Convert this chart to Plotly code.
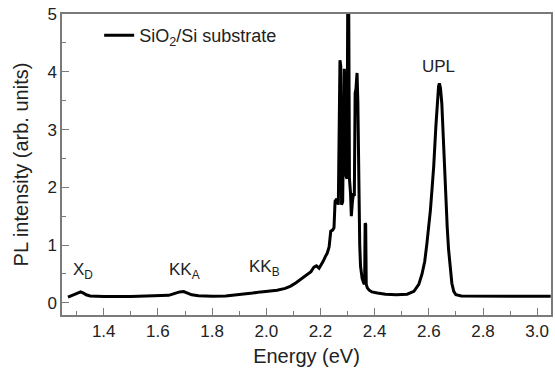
import plotly.graph_objects as go

# Spectrum (energy in eV, PL intensity arb. units)
energy = [1.268, 1.28, 1.295, 1.305, 1.315, 1.325, 1.335, 1.35, 1.40, 1.50, 1.60, 1.64, 1.66, 1.68,
          1.695, 1.71, 1.725, 1.75, 1.80, 1.85, 1.90, 1.95, 1.98, 2.00, 2.04, 2.07, 2.09, 2.11,
          2.13, 2.15, 2.165, 2.176, 2.185, 2.195, 2.203, 2.21, 2.218, 2.225, 2.232, 2.238, 2.245,
          2.25, 2.254, 2.26, 2.266, 2.27, 2.272, 2.275, 2.278, 2.282, 2.286, 2.288, 2.291, 2.294,
          2.298, 2.301, 2.304, 2.307, 2.311, 2.314, 2.318, 2.322, 2.325, 2.328, 2.331, 2.335,
          2.338, 2.341, 2.345, 2.348, 2.354, 2.36, 2.363, 2.365, 2.367, 2.369, 2.373, 2.38, 2.39,
          2.41, 2.44, 2.48, 2.52, 2.545, 2.563, 2.575, 2.585, 2.593, 2.60, 2.606, 2.612, 2.618,
          2.626, 2.632, 2.636, 2.639, 2.643, 2.648, 2.654, 2.658, 2.663, 2.668, 2.673, 2.679,
          2.685, 2.692, 2.70, 2.72, 2.80, 2.90, 3.05]
intensity = [0.10, 0.12, 0.15, 0.17, 0.19, 0.17, 0.14, 0.12, 0.11, 0.11, 0.115, 0.13, 0.16, 0.19,
             0.195, 0.17, 0.14, 0.125, 0.115, 0.12, 0.14, 0.17, 0.19, 0.20, 0.22, 0.25, 0.29, 0.35,
             0.42, 0.50, 0.54, 0.62, 0.64, 0.60, 0.66, 0.72, 0.80, 0.86, 0.97, 1.24, 1.26,
             1.30, 1.76, 1.80, 1.70, 4.0, 4.2, 4.1, 1.7, 1.75, 4.0, 4.05, 3.6, 2.2,
             2.15, 5.6, 5.6, 2.15, 1.9, 1.5, 1.75, 1.9, 1.85, 3.63, 3.7, 3.98,
             3.5, 1.8, 1.0, 0.63, 0.42, 0.34, 0.33, 1.38, 1.36, 0.32, 0.26, 0.22, 0.19,
             0.17, 0.15, 0.14, 0.15, 0.20, 0.32, 0.50, 0.72, 1.03, 1.32, 1.61, 1.98, 2.36,
             3.05, 3.55, 3.75, 3.80, 3.72, 3.45, 2.76, 2.3, 1.78, 1.3, 0.92, 0.6,
             0.34, 0.2, 0.14, 0.12, 0.115, 0.115, 0.115]

x_ticks = [1.4, 1.6, 1.8, 2.0, 2.2, 2.4, 2.6, 2.8, 3.0]
y_ticks = [0, 1, 2, 3, 4, 5]

labels = ["X<sub>D</sub>", "KK<sub>A</sub>", "KK<sub>B</sub>", "UPL"]
label_x = [1.323, 1.698, 1.992, 2.636]
label_y = [0.55, 0.55, 0.6, 4.1]

FONT = "Liberation Sans, Arial, sans-serif"
TXT = "#222222"
AX = "#7a7a7a"

fig = go.Figure()
fig.add_trace(go.Scatter(x=energy, y=intensity, mode="lines",
                         line=dict(color="black", width=3),
                         name="SiO<sub>2</sub>/Si substrate"))

for t, xx, yy in zip(labels, label_x, label_y):
    fig.add_annotation(x=xx, y=yy, text=t, showarrow=False,
                       font=dict(family=FONT, size=17, color=TXT))

fig.update_layout(
    width=555, height=372,
    margin=dict(l=62, r=2, t=14, b=57),
    paper_bgcolor="white", plot_bgcolor="white",
    font=dict(family=FONT, size=17, color=TXT),
    showlegend=True,
    legend=dict(x=0.076, y=0.99, xanchor="left", yanchor="top",
                bgcolor="rgba(0,0,0,0)", font=dict(size=18, color=TXT)),
)
fig.update_xaxes(range=[1.246, 3.051], tickvals=x_ticks, tickformat=".1f",
                 ticks="inside", ticklen=7, tickwidth=1.2, tickcolor=AX,
                 minor=dict(dtick=0.1, ticks="inside", ticklen=4, tickcolor=AX, tickwidth=1.2),
                 showline=True, linecolor=AX, linewidth=1.5, mirror=True,
                 showgrid=False, zeroline=False,
                 title=dict(text="Energy (eV)", standoff=9),
                 tickfont=dict(size=17, color=TXT))
fig.update_yaxes(range=[-0.21, 5.0], tickvals=y_ticks,
                 ticks="inside", ticklen=7, tickwidth=1.2, tickcolor=AX,
                 minor=dict(dtick=0.5, ticks="inside", ticklen=4, tickcolor=AX, tickwidth=1.2),
                 showline=True, linecolor=AX, linewidth=1.5, mirror=True,
                 showgrid=False, zeroline=False,
                 title=dict(text="PL intensity (arb. units)", standoff=13),
                 tickfont=dict(size=17, color=TXT))

fig.write_html("out.html")
